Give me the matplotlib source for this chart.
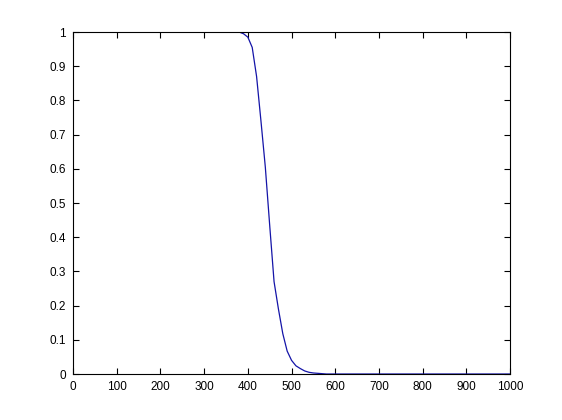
import matplotlib
matplotlib.use("Agg")
import matplotlib.pyplot as plt

x_vals = [0, 380, 390, 400, 410, 420, 430, 440, 450, 460, 470, 480, 490, 500,
          510, 520, 530, 540, 550, 560, 570, 580, 1000]
y_vals = [1.0, 1.0, 0.995, 0.985, 0.955, 0.87, 0.74, 0.605, 0.435, 0.27, 0.19,
          0.118, 0.067, 0.04, 0.024, 0.016, 0.009, 0.005, 0.003, 0.002, 0.001,
          0.0, 0.0]
x_ticks = list(range(0, 1001, 100))
y_ticks = [0, 0.1, 0.2, 0.3, 0.4, 0.5, 0.6, 0.7, 0.8, 0.9, 1]
y_tick_labels = ["0", "0.1", "0.2", "0.3", "0.4", "0.5", "0.6", "0.7", "0.8", "0.9", "1"]

plt.rcParams['font.family'] = ['Liberation Sans', 'DejaVu Sans']

fig = plt.figure(figsize=(5.62, 4.2), dpi=100)
ax = fig.add_axes([0.13, 0.1095, 0.7775, 0.8143])
ax.plot(x_vals, y_vals, color='#1414a8', linewidth=0.9)
ax.set_xlim(0, 1000)
ax.set_ylim(0, 1)
ax.set_xticks(x_ticks)
ax.set_xticklabels([str(v) for v in x_ticks])
ax.set_yticks(y_ticks)
ax.set_yticklabels(y_tick_labels)
ax.tick_params(direction='in', length=4, width=0.8, labelsize=8.5,
               top=True, right=True, pad=5)
for s in ax.spines.values():
    s.set_linewidth(0.8)
fig.savefig("out.png", dpi=100)
